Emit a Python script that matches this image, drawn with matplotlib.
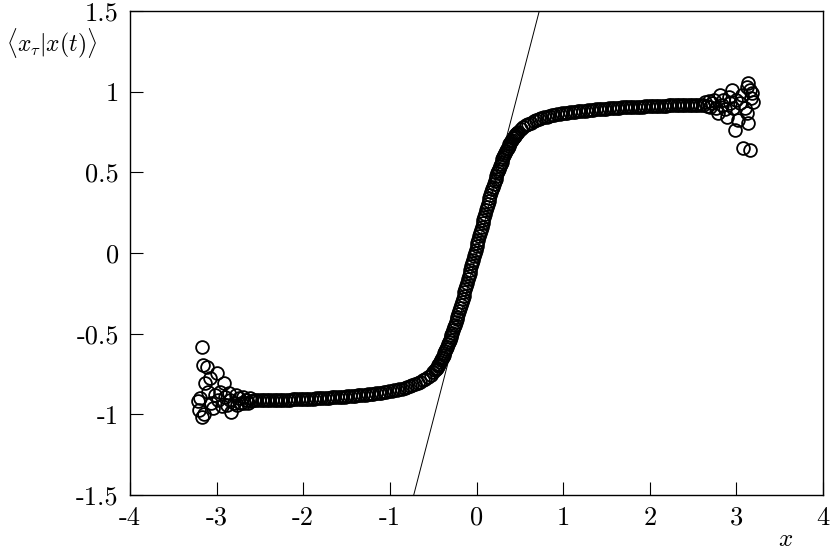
import matplotlib
matplotlib.use("Agg")
import matplotlib.pyplot as plt

plt.rcParams['font.family'] = ['cmr10', 'DejaVu Serif']
plt.rcParams['mathtext.fontset'] = 'cm'
plt.rcParams['axes.unicode_minus'] = False

# conditional mean, left tail (noisy)
left_x = [-3.22, -3.20, -3.19, -3.17, -3.17, -3.16, -3.15, -3.13, -3.115, -3.10,
          -3.08, -3.06, -3.04, -3.02, -3.00, -2.98, -2.96, -2.94, -2.92, -2.90,
          -2.88, -2.86, -2.84, -2.83, -2.80, -2.78, -2.76, -2.74, -2.72, -2.70,
          -2.68, -2.66, -2.64, -2.62]
left_y = [-0.92, -0.97, -0.90, -1.015, -0.58, -0.694, -1.00, -0.808, -0.705, -0.86,
          -0.777, -0.93, -0.963, -0.88, -0.746, -0.91, -0.86, -0.95, -0.808, -0.89,
          -0.94, -0.87, -0.91, -0.984, -0.93, -0.88, -0.94, -0.90, -0.93, -0.89,
          -0.93, -0.91, -0.93, -0.90]

# main curve
curve_x = [
    -2.60, -2.57, -2.54, -2.51, -2.48, -2.45, -2.42, -2.39, -2.36, -2.33,
    -2.30, -2.27, -2.24, -2.21, -2.18, -2.15, -2.12, -2.09, -2.06, -2.03,
    -2.00, -1.97, -1.94, -1.91, -1.88, -1.85, -1.82, -1.79, -1.76, -1.73,
    -1.70, -1.67, -1.64, -1.61, -1.58, -1.55, -1.52, -1.49, -1.46, -1.43,
    -1.40, -1.37, -1.34, -1.31, -1.28, -1.25, -1.22, -1.19, -1.16, -1.13,
    -1.10, -1.07, -1.04, -1.01, -0.98, -0.95, -0.92, -0.89, -0.86, -0.83,
    -0.80, -0.77, -0.74, -0.71, -0.68, -0.65, -0.62, -0.59, -0.56, -0.53,
    -0.50,
    -0.48, -0.47, -0.46, -0.45, -0.44, -0.43, -0.42, -0.41, -0.40, -0.39,
    -0.38, -0.37, -0.36, -0.35, -0.34, -0.33, -0.32, -0.31, -0.30, -0.29,
    -0.28, -0.27, -0.26, -0.25, -0.24, -0.23, -0.22, -0.21, -0.20, -0.19,
    -0.18, -0.17, -0.16, -0.15, -0.14, -0.13, -0.12, -0.11, -0.10, -0.09,
    -0.08, -0.07, -0.06, -0.05, -0.04, -0.03, -0.02, -0.01, 0.00, 0.01,
    0.02, 0.03, 0.04, 0.05, 0.06, 0.07, 0.08, 0.09, 0.10, 0.11,
    0.12, 0.13, 0.14, 0.15, 0.16, 0.17, 0.18, 0.19, 0.20, 0.21,
    0.22, 0.23, 0.24, 0.25, 0.26, 0.27, 0.28, 0.29, 0.30, 0.31,
    0.32, 0.33, 0.34, 0.35, 0.36, 0.37, 0.38, 0.39, 0.40, 0.41,
    0.42, 0.43, 0.44, 0.45, 0.46, 0.47, 0.48,
    0.51, 0.54, 0.57, 0.60, 0.63, 0.66, 0.69, 0.72, 0.75, 0.78,
    0.81, 0.84, 0.87, 0.90, 0.93, 0.96, 0.99, 1.02, 1.05, 1.08,
    1.11, 1.14, 1.17, 1.20, 1.23, 1.26, 1.29, 1.32, 1.35, 1.38,
    1.41, 1.44, 1.47, 1.50, 1.53, 1.56, 1.59, 1.62, 1.65, 1.68,
    1.71, 1.74, 1.77, 1.80, 1.83, 1.86, 1.89, 1.92, 1.95, 1.98,
    2.01, 2.04, 2.07, 2.10, 2.13, 2.16, 2.19, 2.22, 2.25, 2.28,
    2.31, 2.34, 2.37, 2.40, 2.43, 2.46, 2.49, 2.52, 2.55, 2.58,
]
curve_y = [
    -0.915, -0.914, -0.914, -0.913, -0.913, -0.912, -0.912, -0.912, -0.911, -0.911,
    -0.910, -0.910, -0.909, -0.909, -0.908, -0.908, -0.907, -0.906, -0.906, -0.905,
    -0.904, -0.904, -0.903, -0.903, -0.902, -0.901, -0.900, -0.899, -0.898, -0.897,
    -0.896, -0.895, -0.895, -0.894, -0.892, -0.891, -0.890, -0.888, -0.887, -0.886,
    -0.884, -0.882, -0.881, -0.879, -0.877, -0.876, -0.874, -0.872, -0.870, -0.868,
    -0.865, -0.863, -0.861, -0.858, -0.855, -0.852, -0.849, -0.845, -0.841, -0.836,
    -0.831, -0.826, -0.821, -0.814, -0.806, -0.798, -0.790, -0.779, -0.767, -0.753,
    -0.737,
    -0.727, -0.720, -0.712, -0.703, -0.694, -0.685, -0.675, -0.664, -0.653, -0.642,
    -0.631, -0.620, -0.607, -0.593, -0.580, -0.566, -0.553, -0.538, -0.523, -0.508,
    -0.493, -0.478, -0.461, -0.445, -0.428, -0.412, -0.395, -0.377, -0.358, -0.340,
    -0.321, -0.303, -0.283, -0.264, -0.244, -0.225, -0.205, -0.185, -0.164, -0.144,
    -0.123, -0.103, -0.082, -0.062, -0.041, -0.021, 0.000, 0.021, 0.041, 0.062,
    0.082, 0.103, 0.123, 0.144, 0.164, 0.185, 0.205, 0.225, 0.244, 0.264,
    0.283, 0.303, 0.321, 0.340, 0.358, 0.377, 0.395, 0.412, 0.428, 0.445,
    0.461, 0.478, 0.493, 0.508, 0.523, 0.538, 0.553, 0.566, 0.580, 0.593,
    0.607, 0.620, 0.631, 0.642, 0.653, 0.664, 0.675, 0.685, 0.694, 0.703,
    0.712, 0.720, 0.727, 0.734, 0.740, 0.746, 0.752,
    0.766, 0.780, 0.791, 0.800, 0.809, 0.817, 0.824, 0.829, 0.835, 0.840,
    0.844, 0.848, 0.853, 0.856, 0.859, 0.862, 0.865, 0.867, 0.870, 0.872,
    0.874, 0.876, 0.878, 0.880, 0.882, 0.883, 0.885, 0.887, 0.888, 0.890,
    0.891, 0.893, 0.894, 0.895, 0.897, 0.898, 0.899, 0.900, 0.901, 0.902,
    0.903, 0.904, 0.905, 0.905, 0.906, 0.907, 0.908, 0.908, 0.909, 0.910,
    0.911, 0.911, 0.912, 0.912, 0.913, 0.914, 0.914, 0.915, 0.915, 0.916,
    0.916, 0.916, 0.917, 0.917, 0.918, 0.918, 0.919, 0.919, 0.920, 0.920,
]

# right tail (noisy)
right_x = [2.61, 2.64, 2.66, 2.68, 2.70, 2.72, 2.74, 2.76, 2.79, 2.81,
           2.83, 2.85, 2.87, 2.889, 2.91, 2.93, 2.947, 2.96, 2.985, 3.00,
           3.02, 3.04, 3.06, 3.08, 3.10, 3.12, 3.12, 3.139, 3.139, 3.158,
           3.158, 3.17, 3.18, 3.196]
right_y = [0.92, 0.935, 0.91, 0.94, 0.905, 0.93, 0.95, 0.90, 0.866, 0.98,
           0.92, 0.95, 0.89, 0.845, 0.97, 0.93, 1.01, 0.90, 0.763, 0.95,
           0.825, 0.93, 0.98, 0.649, 0.90, 0.866, 1.03, 1.052, 0.804, 1.01,
           0.639, 0.96, 0.99, 0.938]

# linear approximation
line_slope = 2.07
line_intercept = 0.0

xticks = [-4, -3, -2, -1, 0, 1, 2, 3, 4]
xtick_labels = ['-4', '-3', '-2', '-1', '0', '1', '2', '3', '4']
yticks = [-1.5, -1, -0.5, 0, 0.5, 1, 1.5]
ytick_labels = ['-1.5', '-1', '-0.5', '0', '0.5', '1', '1.5']

fig = plt.figure(figsize=(8.3, 5.51), dpi=100)
ax = fig.add_axes([0.1566, 0.1016, 0.8350, 0.8784])

mk = dict(linestyle='none', marker='o', markersize=9.2, markerfacecolor='none',
          markeredgecolor='black', markeredgewidth=1.3)
ax.plot(left_x, left_y, **mk)
ax.plot(curve_x, curve_y, **mk)
ax.plot(right_x, right_y, **mk)
ax.axline((0, line_intercept), slope=line_slope, color='black', linewidth=0.7)

ax.set_xlim(-4, 4)
ax.set_ylim(-1.5, 1.5)
ax.set_xticks(xticks)
ax.set_xticklabels(xtick_labels)
ax.set_yticks(yticks)
ax.set_yticklabels(ytick_labels)
ax.tick_params(direction='in', length=9.5, width=0.8, labelsize=19, pad=8,
               top=False, right=False)
for s in ax.spines.values():
    s.set_linewidth(1.0)

fig.text(0.062, 0.922, r'$\langle x_\tau | x(t)\rangle$', fontsize=17,
         ha='center', va='center')
fig.text(0.946, 0.02, r'$x$', fontsize=18, ha='center', va='center')

fig.savefig('out.png', dpi=100)
